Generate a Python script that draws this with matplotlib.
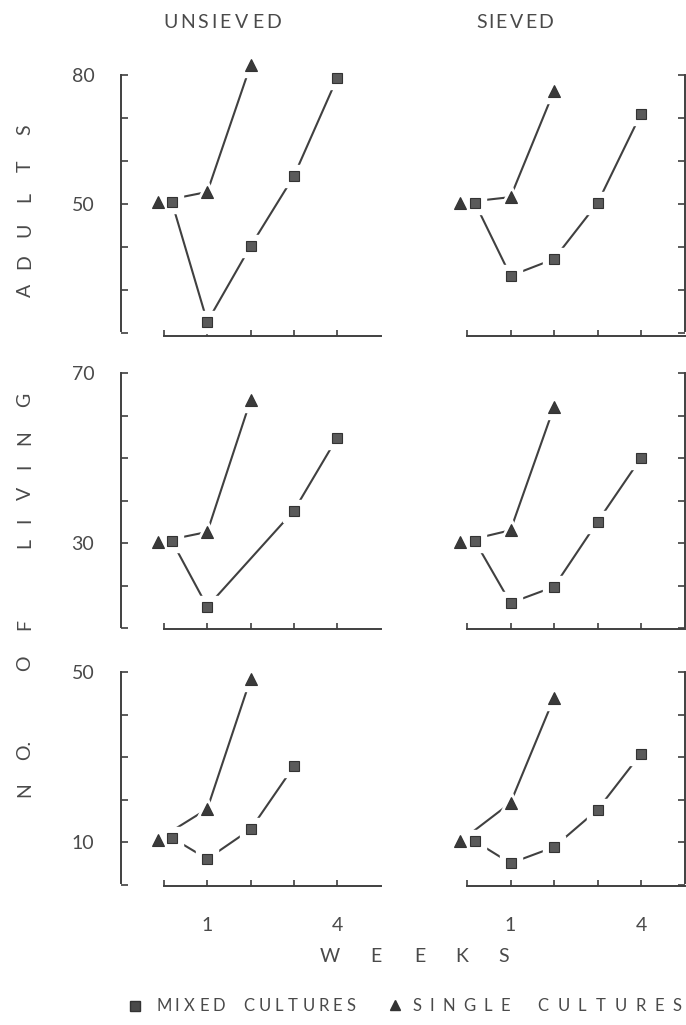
import matplotlib
matplotlib.use("Agg")
import matplotlib.pyplot as plt
from matplotlib.textpath import TextPath
from matplotlib.font_manager import FontProperties
import numpy as np

W, H = 686, 1025
FONT = "Lato"
TXT = "#4a4a4a"
INK = "#404040"

# ---- data (weeks; first point of each series sits slightly left/right of week 0) ----
x_single = [-0.15, 1, 2]
x_mixed_full = [0.18, 1, 2, 3, 4]

# Adults
adults_unsieved_single = [50.5, 52.8, 82.3]
adults_unsieved_mixed = [50.5, 22.6, 40.2, 56.5, 79.3]
adults_sieved_single = [50.3, 51.6, 76.3]
adults_sieved_mixed = [50.3, 33.3, 37.2, 50.2, 71.0]

# Living
living_unsieved_single = [30.2, 32.6, 63.6]
living_unsieved_mixed_x = [0.18, 1, 3, 4]
living_unsieved_mixed = [30.5, 15.0, 37.6, 54.8]
living_sieved_single = [30.2, 33.0, 62.0]
living_sieved_mixed = [30.5, 15.9, 19.7, 35.0, 50.0]

# No. (bottom row)
no_unsieved_single = [10.5, 17.8, 48.4]
no_unsieved_mixed_x = [0.18, 1, 2, 3]
no_unsieved_mixed = [11.0, 6.0, 13.0, 27.8]
no_sieved_single = [10.2, 19.2, 43.9]
no_sieved_mixed = [10.2, 5.0, 8.8, 17.6, 30.8]

row_yticks = [[20, 30, 40, 50, 60, 70, 80], [10, 20, 30, 40, 50, 60, 70], [0, 10, 20, 30, 40, 50]]
row_ylabels = [{80: "80", 50: "50"}, {70: "70", 30: "30"}, {50: "50", 10: "10"}]
row_spine = [(20.5, 80), (10.2, 70), (0.3, 50)]
row_xaxis_y = [19.4, 9.7, -0.4]
row_ylim = [(19, 84), (9, 72), (-1, 52)]
# pixel position of reference values (for layout): (value, px), px per unit
row_ref = [(50, 204, 4.3), (30, 543, 4.25), (10, 842, 4.25)]
week_ticks = [0, 1, 2, 3, 4]
week_labels = ["", "1", "", "", "4"]
col_titles = ["UNSIEVED", "SIEVED"]

fig = plt.figure(figsize=(W / 100, H / 100), dpi=100)
fig.patch.set_facecolor("white")


def px_axes(x0, x1, y_top, y_bot):
    return fig.add_axes([x0 / W, 1 - y_bot / H, (x1 - x0) / W, (y_bot - y_top) / H])


def draw_series(ax, xs, ys):
    ax.plot(xs, ys, color=INK, lw=1.5, zorder=2, clip_on=False)


def draw_halo(ax, xs, ys, marker, ms):
    ax.plot(xs, ys, ls="none", marker=marker, ms=ms + 9, mfc="white", mec="white",
            zorder=3, clip_on=False)


def draw_markers(ax, xs, ys, marker, ms):
    fc = "#5a5a5a" if marker == "s" else "#3a3a3a"
    ax.plot(xs, ys, ls="none", marker=marker, ms=ms, mfc=fc, mec="#333333", mew=0.8,
            zorder=4, clip_on=False)


panels = [
    [(x_single, adults_unsieved_single, x_mixed_full, adults_unsieved_mixed),
     (x_single, adults_sieved_single, x_mixed_full, adults_sieved_mixed)],
    [(x_single, living_unsieved_single, living_unsieved_mixed_x, living_unsieved_mixed),
     (x_single, living_sieved_single, x_mixed_full, living_sieved_mixed)],
    [(x_single, no_unsieved_single, no_unsieved_mixed_x, no_unsieved_mixed),
     (x_single, no_sieved_single, x_mixed_full, no_sieved_mixed)],
]

col_geom = [(164.0, 43.3, (-1.05, 5.05)), (467.0, 43.5, (-1.05, 5.02))]

for r in range(3):
    refv, refpx, ppu = row_ref[r]
    ylo, yhi = row_ylim[r]
    y_top = refpx - (yhi - refv) * ppu
    y_bot = refpx + (refv - ylo) * ppu
    for c in range(2):
        x0px, ppw, (xlo, xhi) = col_geom[c]
        ax = px_axes(x0px + xlo * ppw, x0px + xhi * ppw, y_top, y_bot)
        ax.set_xlim(xlo, xhi)
        ax.set_ylim(ylo, yhi)
        ax.patch.set_alpha(0)
        xs_s, ys_s, xs_m, ys_m = panels[r][c]
        draw_series(ax, xs_s, ys_s)
        draw_series(ax, xs_m, ys_m)
        draw_halo(ax, xs_s, ys_s, "^", 8.5)
        draw_halo(ax, xs_m, ys_m, "s", 7.5)
        draw_markers(ax, xs_s, ys_s, "^", 8.5)
        draw_markers(ax, xs_m, ys_m, "s", 7.5)

        for s in ax.spines.values():
            s.set_color(INK)
            s.set_linewidth(1.4)
        ax.spines["top"].set_visible(False)
        ax.spines["bottom"].set_position(("data", row_xaxis_y[r]))
        ax.spines["bottom"].set_bounds(0, 5)
        ax.set_xticks(week_ticks)
        if r == 2:
            ax.set_xticklabels(week_labels)
        else:
            ax.set_xticklabels([""] * len(week_ticks))
        ax.tick_params(axis="x", direction="in", length=4, width=1.2, color=INK,
                       pad=22, labelsize=14, labelcolor=TXT)
        yt = row_yticks[r]
        lab = [row_ylabels[r].get(v, "") for v in yt]
        ax.spines["left" if c == 0 else "right"].set_bounds(*row_spine[r])
        if c == 0:
            ax.spines["right"].set_visible(False)
            ax.spines["left"].set_position(("data", -1))
            ax.yaxis.set_ticks_position("left")
            ax.set_yticks(yt)
            ax.set_yticklabels(lab)
        else:
            ax.spines["left"].set_visible(False)
            ax.spines["right"].set_position(("data", 5))
            ax.yaxis.set_ticks_position("right")
            ax.set_yticks(yt)
            ax.set_yticklabels([""] * len(yt))
        ax.tick_params(axis="y", direction="in", length=5, width=1.2, color=INK,
                       pad=19, labelsize=14, labelcolor=TXT)
        for t in ax.get_xticklabels() + ax.get_yticklabels():
            t.set_fontfamily(FONT)


def ftext(xpx, ypx, s, **kw):
    fig.text(xpx / W, 1 - ypx / H, s, ha="center", va="center", color=TXT,
             fontfamily=FONT, **kw)


_fp = FontProperties(family=FONT)


def ink_width_px(ch, size):
    if ch == " ":
        return size * 100 / 72 * 0.45
    tp = TextPath((0, 0), ch, size=size, prop=_fp)
    ext = tp.get_extents()
    return ext.width * 100 / 72


def tracked(x0, x1, ypx, s, size):
    widths = [ink_width_px(ch, size) for ch in s]
    gap = ((x1 - x0) - sum(widths)) / (len(s) - 1)
    x = x0
    for ch, w in zip(s, widths):
        if ch != " ":
            ftext(x + w / 2, ypx, ch, fontsize=size)
        x += w + gap


# column titles
tracked(165, 280, 23, col_titles[0], 14)
tracked(477, 552, 23, col_titles[1], 14)

# vertical axis title letters (bottom-to-top)
ylab_letters = ["N", "O.", "O", "F", "L", "I", "V", "I", "N", "G", "A", "D", "U", "L", "T", "S"]
ylab_px = [790, 750, 663, 625, 543, 520, 493, 466, 438, 400, 290, 262, 230, 197, 166, 130]
for ch, yp in zip(ylab_letters, ylab_px):
    ftext(25, yp, ch, fontsize=14, rotation=90)

# WEEKS
for ch, xp in zip("WEEKS", [330, 376, 420, 462, 504]):
    ftext(xp, 957, ch, fontsize=14)

# legend
ax_leg = fig.add_axes([0, 0, 1, 1])
ax_leg.set_xlim(0, W)
ax_leg.set_ylim(H, 0)
ax_leg.axis("off")
ax_leg.plot([135], [1006], ls="none", marker="s", ms=6.5, mfc="#4a4a4a", mec="#333333")
ax_leg.plot([395], [1005], ls="none", marker="^", ms=7, mfc="#333333", mec="#333333")
tracked(158, 355, 1006, "MIXED CULTURES", 12)
tracked(413, 681, 1006, "SINGLE CULTURES", 12)

fig.savefig("out.png", dpi=100, facecolor="white")
